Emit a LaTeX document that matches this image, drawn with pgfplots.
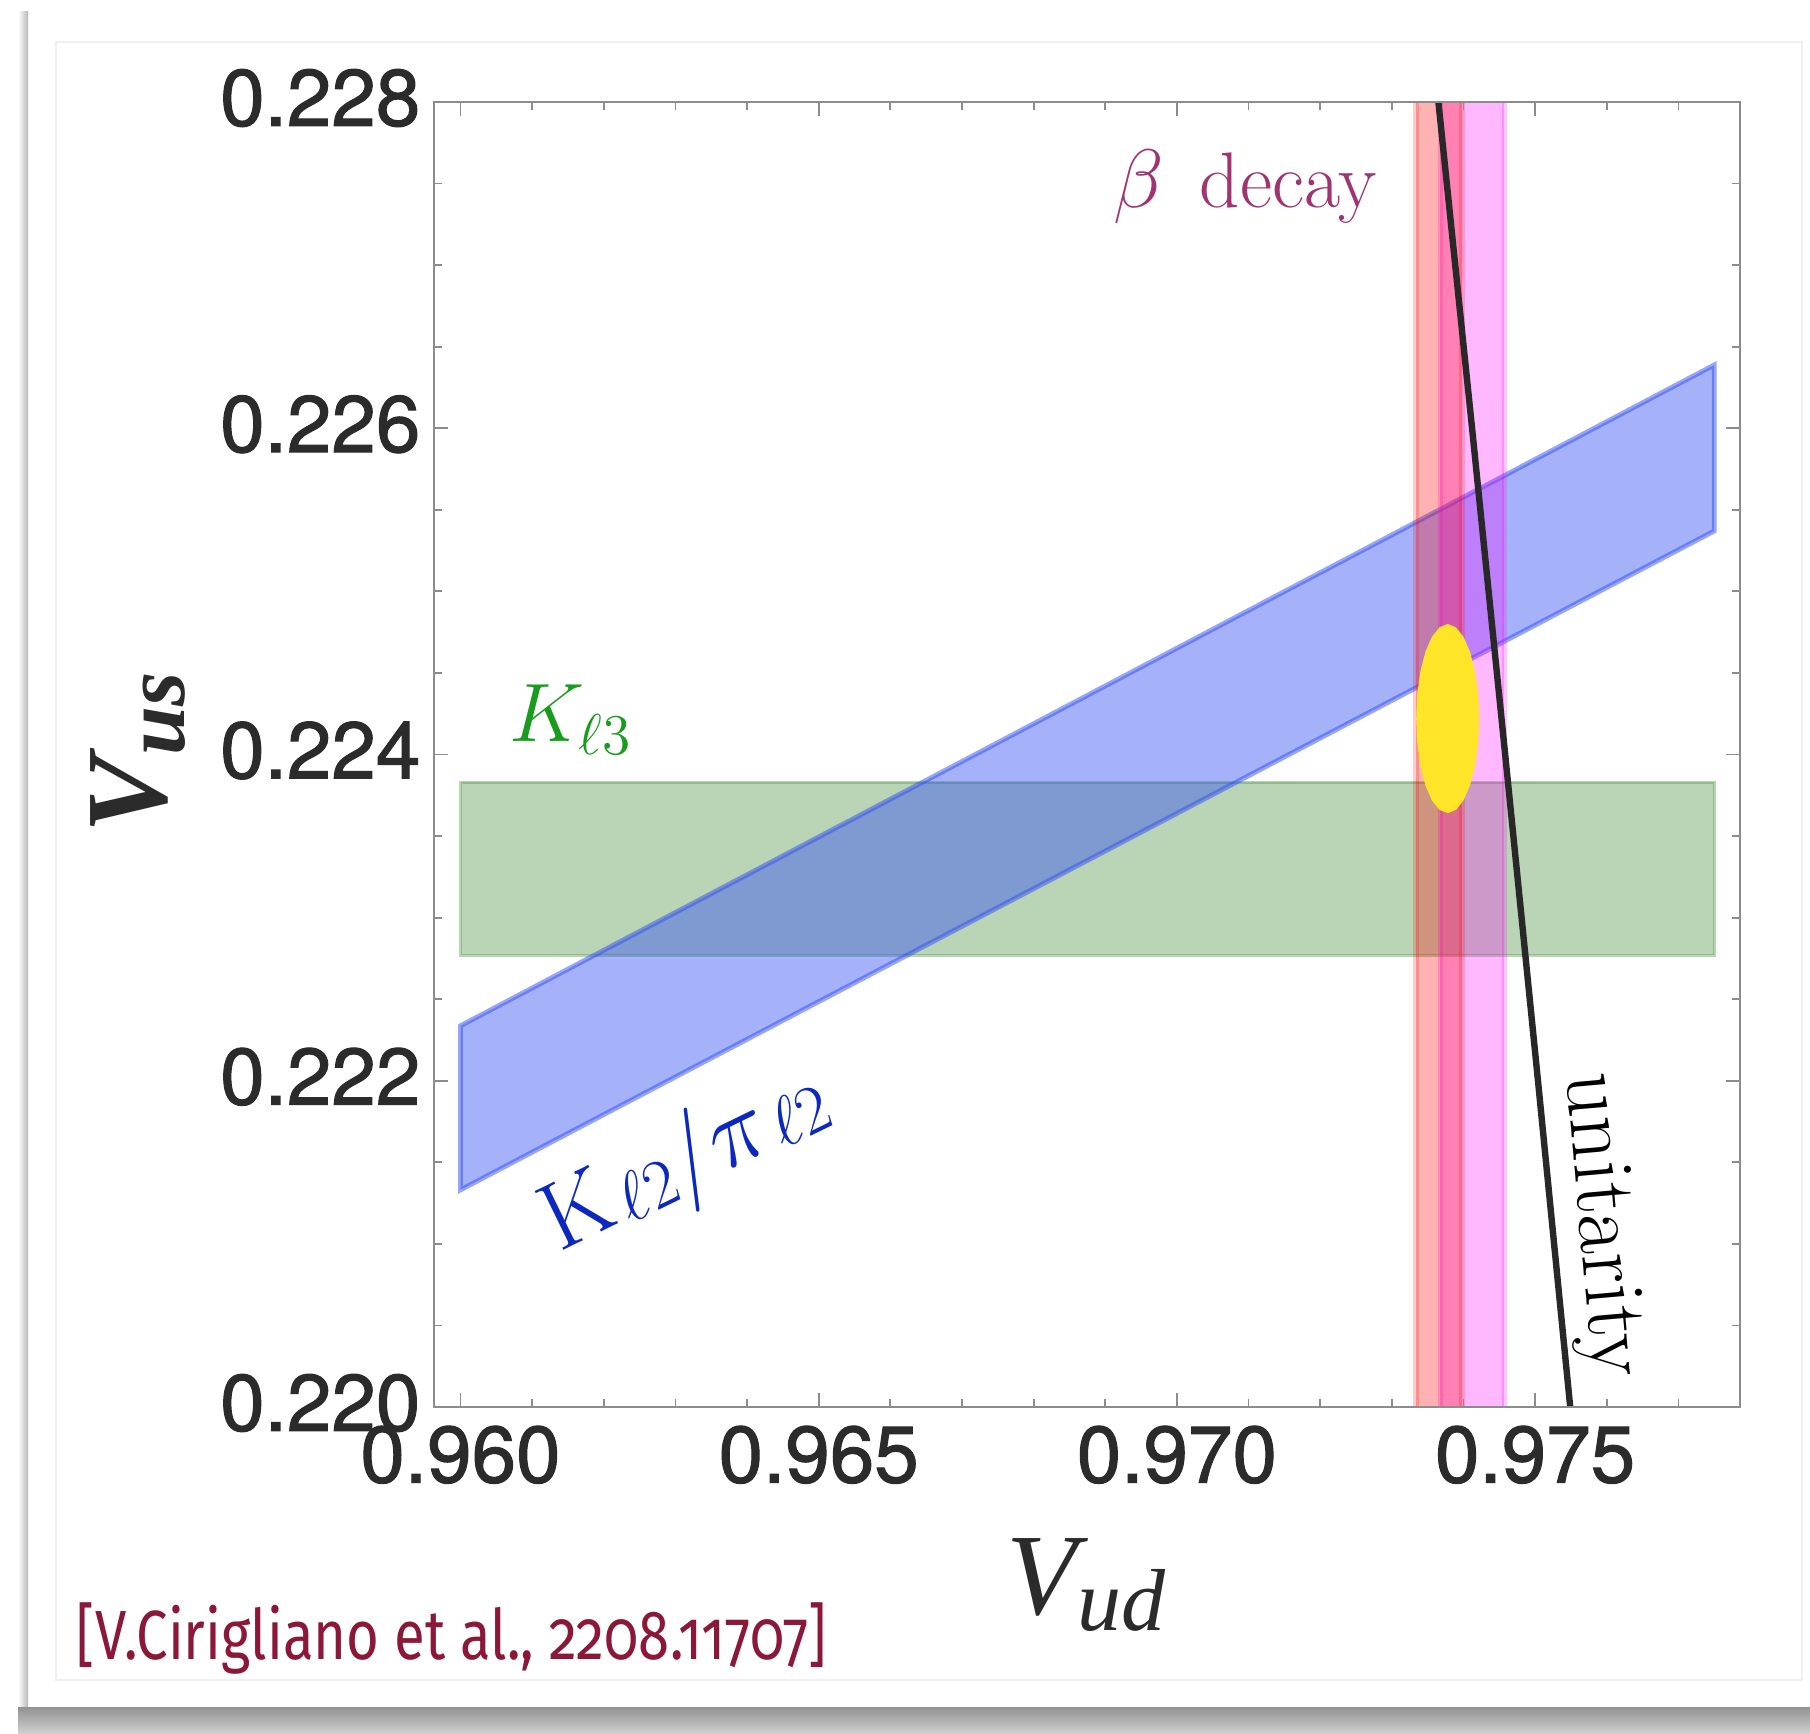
\documentclass[border=0pt]{standalone}
\usepackage{fontspec}
\usepackage{pgfplots}
\pgfplotsset{compat=1.18}
\usepackage{graphicx}
\newfontfamily\heros{TeX Gyre Heros}[FakeBold=1.3]
\newfontfamily\timesf{Liberation Serif}
\newfontfamily\citefont{Fira Sans}[Numbers=OldStyle]
\definecolor{axgray}{RGB}{140,140,140}
\definecolor{labgray}{RGB}{43,43,43}
\definecolor{bandgreen}{RGB}{80,150,70}
\definecolor{bandblue}{RGB}{51,79,243}
\definecolor{bandred}{RGB}{255,0,0}
\definecolor{bandpink}{RGB}{255,0,255}
\definecolor{ellyellow}{RGB}{255,229,40}
\definecolor{betacol}{RGB}{160,52,112}
\definecolor{klthree}{RGB}{25,155,30}
\definecolor{kltwo}{RGB}{12,40,190}
\definecolor{citecol}{RGB}{139,24,56}
\definecolor{linecol}{RGB}{40,40,40}
\begin{document}
\begin{tikzpicture}
\begin{scope}[x=0.25pt,y=0.25pt]
\path[use as bounding box] (0,0) rectangle (1810,1734);
\fill[white] (0,0) rectangle (1810,1734);
\shade[left color=white, right color=black!28] (18,26) rectangle (28,1722);
\shade[top color=black!42, bottom color=black!18] (18,0) rectangle (1810,26);
\draw[black!6, line width=0.3pt] (56,54) rectangle (1802,1692);
\end{scope}
\begin{axis}[
  at={(108.5pt,81.75pt)}, anchor=south west,
  scale only axis, width=326.5pt, height=326.25pt,
  xmin=0.95963, xmax=0.97786, ymin=0.220, ymax=0.228,
  xtick={0.960,0.965,0.970,0.975}, xticklabels={0.960,0.965,0.970,0.975},
  ytick={0.220,0.222,0.224,0.226,0.228}, yticklabels={0.220,0.222,0.224,0.226,0.228},
  minor xtick={0.961,0.962,0.963,0.964,0.966,0.967,0.968,0.969,0.971,0.972,0.973,0.974,0.976,0.977},
  minor ytick={0.2205,0.221,0.2215,0.2225,0.223,0.2235,0.2245,0.225,0.2255,0.2265,0.227,0.2275},
  tick align=inside,
  major tick length=3.5pt, minor tick length=2pt,
  axis line style={axgray, line width=0.45pt},
  tick style={axgray, line width=0.45pt},
  axis on top,
  xticklabel style={font=\heros\fontsize{20}{21}\selectfont, text=labgray, inner sep=0pt, anchor=north, yshift=-4.5pt},
  yticklabel style={font=\heros\fontsize{20}{21}\selectfont, text=labgray, inner sep=0pt, anchor=east, xshift=-3.2pt, yshift=1pt},
]
% K_l3 band
\addplot[fill=bandgreen, fill opacity=0.4, draw=bandgreen, draw opacity=0.4, line width=0.8pt]
  coordinates {(0.960,0.22277) (0.9775,0.22277) (0.9775,0.22383) (0.960,0.22383)} -- cycle;
% K_l2/pi_l2 band
\addplot[fill=bandblue, fill opacity=0.44, draw=bandblue, draw opacity=0.5, line width=1.2pt]
  coordinates {(0.960,0.221331) (0.9775,0.22537) (0.9775,0.226388) (0.960,0.222337)} -- cycle;
% beta decay bands
\addplot[fill=bandpink, fill opacity=0.28, draw=bandpink, draw opacity=0.22, line width=1.2pt]
  coordinates {(0.973675,0.219) (0.974568,0.219) (0.974568,0.229) (0.973675,0.229)} -- cycle;
\addplot[fill=bandred, fill opacity=0.3, draw=bandred, draw opacity=0.2, line width=1.5pt]
  coordinates {(0.973333,0.219) (0.973982,0.219) (0.973982,0.229) (0.973333,0.229)} -- cycle;
% combined fit ellipse
\addplot[fill=ellyellow, draw=none]
  coordinates {(0.97422,0.22422) (0.974205,0.22437) (0.974161,0.22451) (0.974091,0.22463)
   (0.97400,0.224722) (0.973894,0.22478) (0.97378,0.2248) (0.973666,0.22478)
   (0.97356,0.224722) (0.973469,0.22463) (0.973399,0.22451) (0.973355,0.22437)
   (0.97334,0.22422) (0.973355,0.22407) (0.973399,0.22393) (0.973469,0.22381)
   (0.97356,0.223718) (0.973666,0.22366) (0.97378,0.22364) (0.973894,0.22366)
   (0.97400,0.223718) (0.974091,0.22381) (0.974161,0.22393) (0.974205,0.22407)} -- cycle;
% unitarity
\addplot[linecol, line width=1.6pt]
  coordinates {(0.973538,0.2285) (0.97365,0.228) (0.97412,0.226) (0.974582,0.224) (0.97504,0.222) (0.97549,0.220) (0.975606,0.2195)};
\node[anchor=base west, inner sep=0pt, text=betacol, font=\fontsize{19.7}{23}\selectfont]
  at (axis cs:0.96911,0.227356) {$\beta$\hspace{0.45em}decay};
\node[anchor=base west, inner sep=0pt, text=klthree, font=\fontsize{21.5}{25}\selectfont]
  at (axis cs:0.960677,0.224077) {$K_{\ell 3}$};
\node[anchor=base, rotate=26, inner sep=0pt, text=kltwo, font=\fontsize{24}{28}\selectfont]
  at (axis cs:0.96330,0.221360) {$\mathrm{K}$\hspace{0.08em}\raisebox{-1.5pt}{\fontsize{18}{20}\selectfont$\ell 2$}$/$\raisebox{0pt}{$\pi$}\hspace{0.05em}\raisebox{-1.5pt}{\fontsize{18}{20}\selectfont$\ell 2$}};
\node[rotate=-85, inner sep=0pt, text=black, font=\fontsize{21.8}{25}\selectfont]
  at (axis cs:0.975893,0.221116) {unitarity};
\end{axis}
\begin{scope}[x=0.25pt,y=0.25pt]
\node[rotate=90, anchor=base, inner sep=0pt, text=labgray] at (167,981)
  {\timesf\bfseries\itshape\fontsize{29}{30}\selectfont V\raisebox{-4.3pt}{\fontsize{22}{24}\selectfont us}};
\node[anchor=base, inner sep=0pt, text=labgray] at (1086,119)
  {\timesf\itshape\fontsize{29}{30}\selectfont V\raisebox{-3.8pt}{\fontsize{22}{24}\selectfont ud}};
\node[anchor=base west, inner sep=0pt, text=citecol] at (76,74)
  {\resizebox{187.4pt}{\height}{\citefont\fontsize{17.4}{20}\selectfont [V.Cirigliano et al., 2208.11707]}};
\end{scope}
\end{tikzpicture}
\end{document}
